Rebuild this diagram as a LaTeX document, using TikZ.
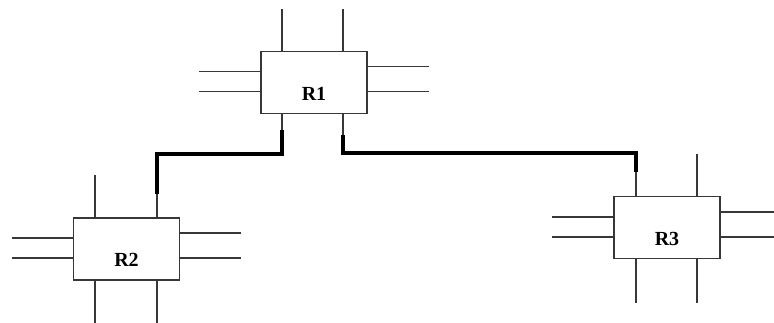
\documentclass[tikz,border=0pt]{standalone}
\usepackage{fontspec}
\setmainfont{Liberation Serif}
\usetikzlibrary{calc,positioning}
\definecolor{wiregray}{RGB}{55,55,55}

\begin{document}
\begin{tikzpicture}[x=1pt, y=1pt,
    router/.style={draw=wiregray, line width=1.6pt, fill=white, minimum width=106pt, minimum height=62pt, inner sep=0pt, text height=35pt, text depth=0pt, font=\fontsize{20}{22}\selectfont\bfseries},
    port/.style={draw=wiregray, line width=1.6pt},
    link/.style={draw=black, line width=4pt}
  ]
  \useasboundingbox (0,0) rectangle (774,322);

  % routers
  \node[router] (r1) at (314,239.5) {R1};
  \node[router] (r2) at (126.5,73) {R2};
  \node[router] (r3) at (667,94.5) {R3};

  % free ports on every router
  \foreach \r in {r1,r2,r3} {
    \draw[port] ($(\r.north west)+(0,-21)$) -- ++(-61,0);
    \draw[port] ($(\r.north west)+(0,-41)$) -- ++(-61,0);
    \draw[port] ($(\r.north east)+(0,-16)$) -- ++(61,0);
    \draw[port] ($(\r.north east)+(0,-41)$) -- ++(61,0);
  }
  \draw[port] ($(r1.north west)+(22,0)$) -- ++(0,42);
  \draw[port] ($(r1.north west)+(83,0)$) -- ++(0,42);
  \draw[port] ($(r2.north west)+(22,0)$) -- ++(0,42);
  \draw[port] ($(r2.south west)+(22,0)$) -- ++(0,-42);
  \draw[port] ($(r2.south west)+(84,0)$) -- ++(0,-42);
  \draw[port] ($(r3.north west)+(84,0)$) -- ++(0,42);
  \draw[port] ($(r3.south west)+(23,0)$) -- ++(0,-44);
  \draw[port] ($(r3.south west)+(84,0)$) -- ++(0,-44);

  % R1 -- R2
  \coordinate (a2) at ($(r1.south west)+(22,-16)$);
  \coordinate (b2) at ($(r2.north west)+(84,23)$);
  \draw[port] (r1.south -| a2) -- (a2);
  \draw[port] (b2) -- (r2.north -| b2);
  \draw[link] (a2) -- ++(0,-24) -| (b2);

  % R1 -- R3
  \coordinate (a3) at ($(r1.south west)+(83,-21)$);
  \coordinate (b3) at ($(r3.north west)+(23,24)$);
  \draw[port] (r1.south -| a3) -- (a3);
  \draw[port] (b3) -- (r3.north -| b3);
  \draw[link] (a3) -- ++(0,-18) -| (b3);
\end{tikzpicture}
\end{document}
